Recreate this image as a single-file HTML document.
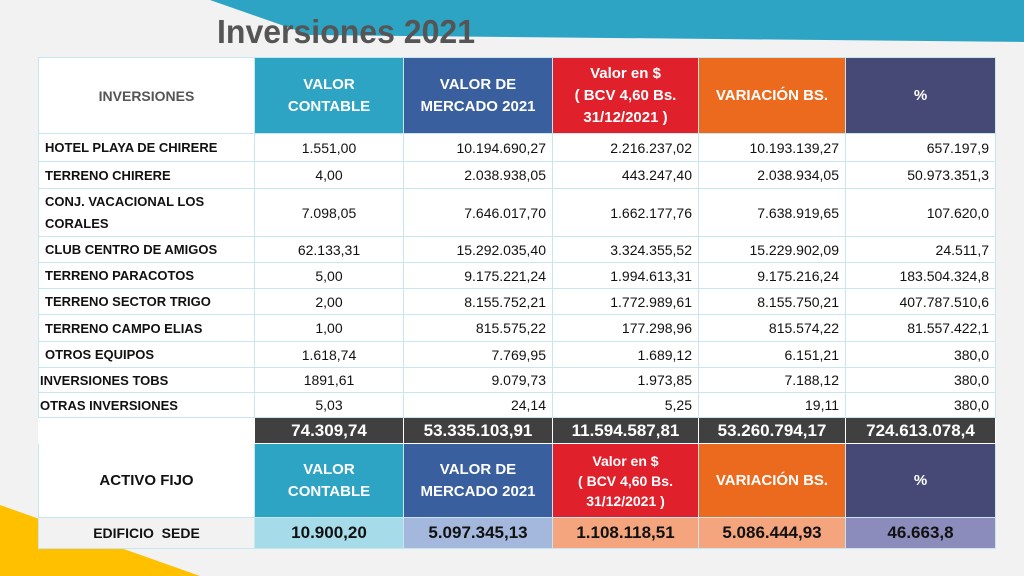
<!DOCTYPE html>
<html><head><meta charset="utf-8"><style>
body{margin:0;width:1024px;height:576px;background:#f2f2f2;position:relative;overflow:hidden;font-family:"Liberation Sans",sans-serif}
svg.bg{position:absolute;left:0;top:0}
h1{position:absolute;left:217px;top:13px;margin:0;font-size:33px;font-weight:bold;color:#555;transform:scaleX(0.97);transform-origin:left}
table{position:absolute;left:38px;top:57px;border-collapse:collapse;table-layout:fixed;width:957px}
td{border:1px solid #c7e7f0;padding:0 6px;font-size:14px;color:#111;background:#fff;white-space:nowrap;overflow:hidden}
td.n{text-align:right}
td.c{text-align:center}
td.l{font-weight:bold;font-size:13px;transform-origin:left}
.h{color:#fff;font-weight:bold;text-align:center;font-size:15px;line-height:22px}
.t1{background:#2ea4c4}.t2{background:#3a5f9e}.t3{background:#e0202a}.t4{background:#ec6a1e}.t5{background:#464876}
.tot td{background:#404040;color:#fff;font-weight:bold;font-size:17px;text-align:center;border-color:#fff}
.tot td:first-child{background:#fff}
.ed td{font-weight:bold;font-size:17px;text-align:center}
</style></head><body>
<svg class="bg" width="1024" height="576"><polygon points="210,0 1024,0 1024,42 310,35" fill="#2ea4c4"/><polygon points="0,505 0,576 200,576" fill="#ffc000"/></svg>
<h1>Inversiones 2021</h1>
<table>
<colgroup><col style="width:216px"><col style="width:149px"><col style="width:149px"><col style="width:146px"><col style="width:147px"><col style="width:150px"></colgroup>
<tr style="height:76px"><td class="c" style="color:#555;font-weight:bold;font-size:14px">INVERSIONES</td><td class="h t1">VALOR<br>CONTABLE</td><td class="h t2">VALOR DE<br>MERCADO 2021</td><td class="h t3">Valor en $<br>( BCV 4,60 Bs.<br>31/12/2021 )</td><td class="h t4">VARIACIÓN BS.</td><td class="h t5">%</td></tr>
<tr style="height:28px"><td class="l">HOTEL PLAYA DE CHIRERE</td><td class="c">1.551,00</td><td class="n">10.194.690,27</td><td class="n">2.216.237,02</td><td class="n">10.193.139,27</td><td class="n">657.197,9</td></tr>
<tr style="height:27px"><td class="l">TERRENO CHIRERE</td><td class="c">4,00</td><td class="n">2.038.938,05</td><td class="n">443.247,40</td><td class="n">2.038.934,05</td><td class="n">50.973.351,3</td></tr>
<tr style="height:48px"><td class="l" style="line-height:22px">CONJ. VACACIONAL LOS<br>CORALES</td><td class="c">7.098,05</td><td class="n">7.646.017,70</td><td class="n">1.662.177,76</td><td class="n">7.638.919,65</td><td class="n">107.620,0</td></tr>
<tr style="height:26px"><td class="l">CLUB CENTRO DE AMIGOS</td><td class="c">62.133,31</td><td class="n">15.292.035,40</td><td class="n">3.324.355,52</td><td class="n">15.229.902,09</td><td class="n">24.511,7</td></tr>
<tr style="height:26px"><td class="l">TERRENO PARACOTOS</td><td class="c">5,00</td><td class="n">9.175.221,24</td><td class="n">1.994.613,31</td><td class="n">9.175.216,24</td><td class="n">183.504.324,8</td></tr>
<tr style="height:26px"><td class="l">TERRENO SECTOR TRIGO</td><td class="c">2,00</td><td class="n">8.155.752,21</td><td class="n">1.772.989,61</td><td class="n">8.155.750,21</td><td class="n">407.787.510,6</td></tr>
<tr style="height:27px"><td class="l">TERRENO CAMPO ELIAS</td><td class="c">1,00</td><td class="n">815.575,22</td><td class="n">177.298,96</td><td class="n">815.574,22</td><td class="n">81.557.422,1</td></tr>
<tr style="height:26px"><td class="l">OTROS EQUIPOS</td><td class="c">1.618,74</td><td class="n">7.769,95</td><td class="n">1.689,12</td><td class="n">6.151,21</td><td class="n">380,0</td></tr>
<tr style="height:25px"><td class="l" style="padding-left:1px">INVERSIONES TOBS</td><td class="c">1891,61</td><td class="n">9.079,73</td><td class="n">1.973,85</td><td class="n">7.188,12</td><td class="n">380,0</td></tr>
<tr style="height:25px"><td class="l" style="padding-left:1px">OTRAS INVERSIONES</td><td class="c">5,03</td><td class="n">24,14</td><td class="n">5,25</td><td class="n">19,11</td><td class="n">380,0</td></tr>
<tr class="tot" style="height:26px"><td></td><td>74.309,74</td><td>53.335.103,91</td><td>11.594.587,81</td><td>53.260.794,17</td><td>724.613.078,4</td></tr>
<tr style="height:74px"><td class="c" style="font-weight:bold;font-size:15px">ACTIVO FIJO</td><td class="h t1">VALOR<br>CONTABLE</td><td class="h t2">VALOR DE<br>MERCADO 2021</td><td class="h t3" style="font-size:14px;line-height:20px">Valor en $<br>( BCV 4,60 Bs.<br>31/12/2021 )</td><td class="h t4">VARIACIÓN BS.</td><td class="h t5">%</td></tr>
<tr class="ed" style="height:31px"><td style="font-size:14px;background:#f2f2f2">EDIFICIO&nbsp; SEDE</td><td style="background:#a6dcea">10.900,20</td><td style="background:#a3b8dc">5.097.345,13</td><td style="background:#f4a57e">1.108.118,51</td><td style="background:#f4a57e">5.086.444,93</td><td style="background:#8c8cbc">46.663,8</td></tr>
</table>
</body></html>
